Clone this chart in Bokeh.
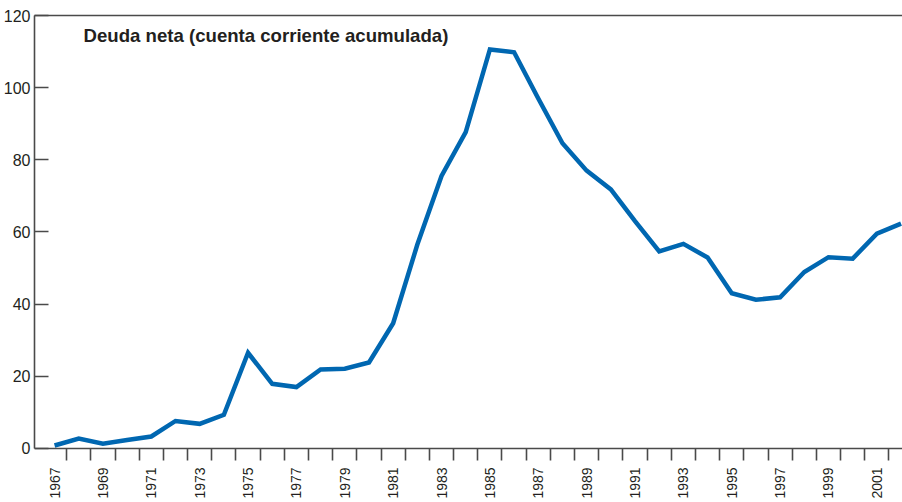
import math
from bokeh.plotting import figure
from bokeh.models import FixedTicker, Range1d, Label, ColumnDataSource, LinearAxis
from bokeh.embed import file_html
from bokeh.resources import INLINE

# Data
years = list(range(1967, 2003))
deuda = [0.8, 2.7, 1.3, 2.3, 3.3, 7.6, 6.8, 9.3, 26.5, 17.9,
         17.0, 21.9, 22.1, 23.8, 34.7, 56.5, 75.5, 87.7, 110.6, 109.8,
         97.0, 84.6, 77.0, 71.8, 63.0, 54.6, 56.7, 52.9, 43.0, 41.2,
         41.9, 48.9, 53.0, 52.6, 59.5, 62.3]
y_ticks = [0, 20, 40, 60, 80, 100, 120]
x_label_years = list(range(1967, 2003, 2))
title_text = "Deuda neta (cuenta corriente acumulada)"

FONT = "Liberation Sans"
TXT = "#231f20"
AX = "#4a4a4a"

p = figure(width=902, height=502, output_backend="svg", toolbar_location=None,
           x_range=Range1d(1966.17, 2002.06), y_range=Range1d(-15.0, 120.0),
           min_border_left=0, min_border_right=0, min_border_top=15, min_border_bottom=0)
p.outline_line_color = None
p.xgrid.visible = False
p.ygrid.visible = False
p.background_fill_color = "white"

src = ColumnDataSource(dict(x=years, y=deuda))
p.line("x", "y", source=src, line_color="#0067b1", line_width=4.5, line_join="miter")

# Y axis
ya = p.yaxis[0]
ya.bounds = (0, 120)
ya.ticker = FixedTicker(ticks=y_ticks)
ya.major_tick_in = 14
ya.major_tick_out = 0
ya.minor_tick_in = 0
ya.minor_tick_out = 0
ya.axis_line_color = AX
ya.axis_line_width = 1.6
ya.major_tick_line_color = AX
ya.major_tick_line_width = 1.6
ya.major_label_text_font = FONT
ya.major_label_text_font_size = "16px"
ya.major_label_text_color = TXT
ya.major_label_standoff = 4

# X axis (drawn at y = 0 inside the extended frame)
xa = p.xaxis[0]
xa.fixed_location = 0
xa.ticker = FixedTicker(ticks=x_label_years, minor_ticks=[y + 0.5 for y in years[:-1]])
xa.major_tick_in = 0
xa.major_tick_out = 0
xa.minor_tick_in = 0
xa.minor_tick_out = 12
xa.minor_tick_line_color = AX
xa.minor_tick_line_width = 1.6
xa.axis_line_color = AX
xa.axis_line_width = 1.6
xa.major_label_orientation = math.pi / 2
xa.major_label_text_font = FONT
xa.major_label_text_font_size = "14px"
xa.major_label_text_color = TXT
xa.major_label_standoff = 7

# Top border line (an axis with no ticks or labels)
top = LinearAxis(ticker=FixedTicker(ticks=[]), axis_line_color=AX, axis_line_width=1.6,
                 major_tick_in=0, major_tick_out=0, minor_tick_in=0, minor_tick_out=0,
                 major_label_text_font_size="0px", major_label_standoff=0)
p.add_layout(top, "above")

# Title inside the plot
p.add_layout(Label(x=1968.2, y=114.5, text=title_text, text_font=FONT,
                   text_font_size="18.6px", text_font_style="bold", text_color=TXT,
                   text_baseline="middle", text_align="left"))

open("out.html", "w").write(file_html(p, INLINE))
